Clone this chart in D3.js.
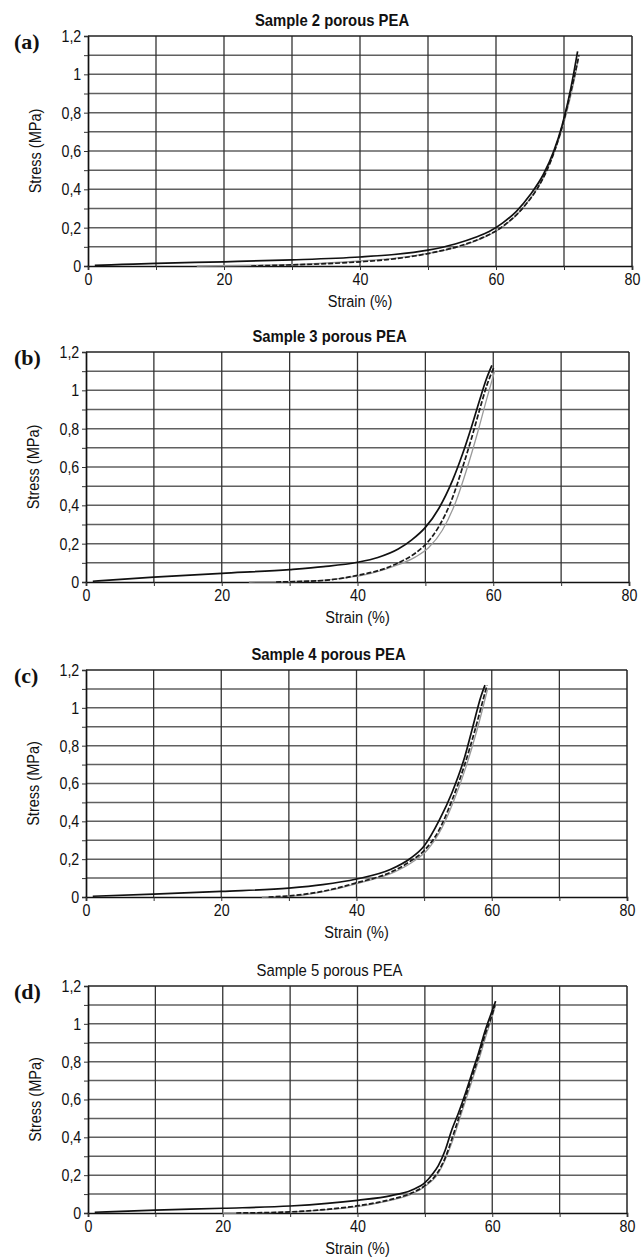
<!DOCTYPE html>
<html><head><meta charset="utf-8">
<script src="https://cdn.jsdelivr.net/npm/d3@7"></script>
<style>
html,body{margin:0;padding:0;background:#fff;}
svg{display:block;}
</style></head>
<body>
<script>
// ---------- DATA ----------
const xTicks = [0, 20, 40, 60, 80];
const xTickLabels = ["0", "20", "40", "60", "80"];
const yTicks = [0, 0.2, 0.4, 0.6, 0.8, 1.0, 1.2];
const yTickLabels = ["0", "0,2", "0,4", "0,6", "0,8", "1", "1,2"];
const panelLetters = ["(a)", "(b)", "(c)", "(d)"];
const panelTitles = ["Sample 2 porous PEA", "Sample 3 porous PEA", "Sample 4 porous PEA", "Sample 5 porous PEA"];

// Sample 2
const loadA = [[1,0.003],[5,0.008],[10,0.014],[20,0.022],[30,0.032],[40,0.047],[45,0.06],[50,0.083],[54,0.115],[57,0.15],[59,0.18],[61,0.225],[63,0.285],[65,0.37],[67,0.48],[68.5,0.6],[69.7,0.73],[70.6,0.86],[71.4,1.0],[72,1.12]];
const unloadA = [[24,0.0],[30,0.006],[35,0.012],[40,0.022],[44,0.033],[48,0.052],[52,0.08],[55,0.108],[58,0.148],[60,0.183],[62,0.235],[64,0.305],[66,0.4],[67.5,0.5],[68.8,0.62],[69.9,0.75],[70.8,0.88],[71.6,1.0],[72.2,1.1]];
const grayA = [[16,0.0],[25,0.004],[32,0.01],[40,0.026],[45,0.04],[50,0.066],[55,0.105],[58,0.145],[61,0.205],[63,0.265],[65,0.35],[66.8,0.45],[68.3,0.57],[69.6,0.7],[70.6,0.83],[71.5,0.97],[72.1,1.08]];

// Sample 3
const loadB = [[1,0.004],[10,0.025],[20,0.045],[30,0.065],[35,0.08],[40,0.103],[43,0.128],[46,0.172],[48,0.22],[50,0.285],[52,0.385],[54,0.53],[55.5,0.67],[56.8,0.81],[58,0.95],[59,1.06],[59.8,1.13]];
const unloadB = [[28,0.0],[35,0.008],[40,0.035],[44,0.07],[46.5,0.108],[48.5,0.15],[50,0.195],[52,0.29],[54,0.44],[55.5,0.6],[56.8,0.75],[58,0.9],[59.1,1.03],[60.1,1.12]];
const grayB = [[24,0.0],[32,0.004],[38,0.02],[42,0.045],[46,0.09],[48.5,0.13],[50.5,0.18],[52.5,0.27],[54.5,0.42],[56.2,0.6],[57.7,0.78],[59,0.95],[60.2,1.1]];

// Sample 4
const loadC = [[1,0.004],[10,0.015],[20,0.03],[30,0.047],[35,0.065],[40,0.095],[45,0.145],[48,0.205],[50,0.27],[52.3,0.41],[54.1,0.55],[56,0.74],[57.2,0.9],[58.4,1.06],[59,1.12]];
const unloadC = [[27,0.0],[30,0.006],[35,0.03],[40,0.075],[45,0.13],[48,0.19],[50,0.245],[52.3,0.36],[54,0.5],[56,0.7],[57.5,0.88],[58.7,1.04],[59.3,1.12]];
const grayC = [[26,0.0],[31,0.006],[36,0.035],[41,0.08],[45.5,0.13],[48.5,0.19],[50.5,0.25],[52.7,0.37],[54.4,0.51],[56.3,0.7],[57.8,0.88],[58.9,1.03],[59.4,1.1]];

// Sample 5
const loadD = [[1,0.004],[10,0.015],[20,0.025],[30,0.037],[40,0.067],[45,0.092],[48,0.12],[50,0.16],[51,0.2],[52,0.25],[53,0.33],[54,0.44],[55,0.53],[56,0.63],[57,0.74],[58,0.85],[59,0.97],[60,1.07],[60.5,1.12]];
const unloadD = [[22,0.0],[30,0.006],[35,0.018],[40,0.038],[45,0.072],[48,0.105],[50,0.145],[52,0.22],[53,0.29],[54,0.39],[55,0.5],[56,0.61],[57,0.72],[58,0.83],[59,0.95],[60,1.05],[60.4,1.1]];
const grayD = [[20,0.0],[28,0.003],[34,0.014],[40,0.034],[45,0.068],[48,0.1],[50,0.14],[52,0.21],[53,0.28],[54.1,0.38],[55.1,0.49],[56.1,0.6],[57.1,0.71],[58.1,0.82],[59.1,0.94],[60.1,1.05],[60.5,1.1]];

const loadSeries = [loadA, loadB, loadC, loadD];
const unloadSeries = [unloadA, unloadB, unloadC, unloadD];
const graySeries = [grayA, grayB, grayC, grayD];

// ---------- LAYOUT ----------
const W = 643, H = 1258;
const frames = [
  {top: 36, bottom: 266, left: 88, right: 632, boldTitle: true},
  {top: 352, bottom: 582, left: 86, right: 629, boldTitle: true},
  {top: 670, bottom: 897, left: 86, right: 627, boldTitle: true},
  {top: 986, bottom: 1213, left: 88, right: 627, boldTitle: false}
];

const svg = d3.select("body").append("svg").attr("width", W).attr("height", H);
const sansFont = "'Liberation Sans', Arial, sans-serif";
const narrow = "scale(0.84,1)";

frames.forEach((f, i) => {
  const x = d3.scaleLinear().domain([0, 80]).range([f.left, f.right]);
  const y = d3.scaleLinear().domain([0, 1.2]).range([f.bottom, f.top]);
  const g = svg.append("g");

  // horizontal grid (every 0.1)
  const hGrid = d3.range(1, 12).map(v => v / 10);
  g.append("g").selectAll("line").data(hGrid).join("line")
    .attr("x1", f.left).attr("x2", f.right)
    .attr("y1", d => y(d)).attr("y2", d => y(d))
    .attr("stroke", "#606060").attr("stroke-width", 1.5);
  // vertical grid (every 10)
  const vGrid = d3.range(10, 80, 10);
  g.append("g").selectAll("line").data(vGrid).join("line")
    .attr("x1", d => x(d)).attr("x2", d => x(d))
    .attr("y1", f.top).attr("y2", f.bottom)
    .attr("stroke", "#333").attr("stroke-width", 1.3);

  // y axis with minor ticks every 0.1
  const yAxis = d3.axisLeft(y).tickValues(d3.range(0, 13).map(v => v / 10)).tickSize(4)
    .tickFormat(d => {
      const k = yTicks.findIndex(t => Math.abs(t - d) < 1e-6);
      return k >= 0 ? yTickLabels[k] : "";
    });
  const ya = g.append("g").attr("transform", `translate(${f.left},0)`).call(yAxis);
  ya.select(".domain").attr("stroke", "#111").attr("stroke-width", 1.7);
  ya.selectAll(".tick line").attr("stroke", "#333");
  ya.selectAll("text").attr("font-family", sansFont).attr("font-size", 17).attr("fill", "#111")
    .attr("x", -8).attr("transform", narrow);

  const xAxis = d3.axisBottom(x).tickValues(d3.range(0, 90, 10)).tickSize(4)
    .tickFormat(d => {
      const k = xTicks.indexOf(d);
      return k >= 0 ? xTickLabels[k] : "";
    });
  const xa = g.append("g").attr("transform", `translate(0,${f.bottom})`).call(xAxis);
  xa.select(".domain").attr("stroke", "#111").attr("stroke-width", 1.7);
  xa.selectAll(".tick line").attr("stroke", "#333");
  xa.selectAll("text").attr("font-family", sansFont).attr("font-size", 17).attr("fill", "#111")
    .attr("y", 7).attr("transform", narrow);

  // top and right frame
  g.append("line").attr("x1", f.left).attr("x2", f.right).attr("y1", f.top).attr("y2", f.top).attr("stroke", "#222").attr("stroke-width", 1.5);
  g.append("line").attr("x1", f.right).attr("x2", f.right).attr("y1", f.top).attr("y2", f.bottom).attr("stroke", "#222").attr("stroke-width", 1.5);

  // curves
  const line = d3.line().x(d => x(d[0])).y(d => y(d[1])).curve(d3.curveMonotoneX);
  g.append("path").datum(graySeries[i]).attr("d", line).attr("fill", "none")
    .attr("stroke", "#9a9a9a").attr("stroke-width", 1.3);
  g.append("path").datum(unloadSeries[i]).attr("d", line).attr("fill", "none")
    .attr("stroke", "#1a1a1a").attr("stroke-width", 1.7).attr("stroke-dasharray", "5,2");
  g.append("path").datum(loadSeries[i]).attr("d", line).attr("fill", "none")
    .attr("stroke", "#111").attr("stroke-width", 1.7);

  // titles and labels
  const cx = (f.left + f.right) / 2 - 28;
  svg.append("text").attr("transform", `translate(${cx},${f.top - 10}) scale(0.9,1)`)
    .attr("text-anchor", "middle").attr("font-family", sansFont)
    .attr("font-weight", f.boldTitle ? "bold" : "normal").attr("font-size", 16.5).attr("fill", "#111")
    .text(panelTitles[i]);
  svg.append("text").attr("x", 14).attr("y", f.top + 13)
    .attr("font-family", "'Liberation Serif', 'Times New Roman', serif").attr("font-weight", "bold")
    .attr("font-size", 22).attr("fill", "#111").text(panelLetters[i]);
  svg.append("text").attr("transform", `translate(${f.left - 51},${(f.top + f.bottom) / 2}) rotate(-90) scale(0.88,1)`)
    .attr("text-anchor", "middle").attr("dominant-baseline", "middle").attr("font-family", sansFont)
    .attr("font-size", 16.5).attr("fill", "#111").text("Stress (MPa)");
  svg.append("text").attr("transform", `translate(${(f.left + f.right) / 2},${f.bottom + 41}) scale(0.88,1)`)
    .attr("text-anchor", "middle").attr("font-family", sansFont)
    .attr("font-size", 16.5).attr("fill", "#111").text("Strain (%)");
});
</script>
</body></html>
